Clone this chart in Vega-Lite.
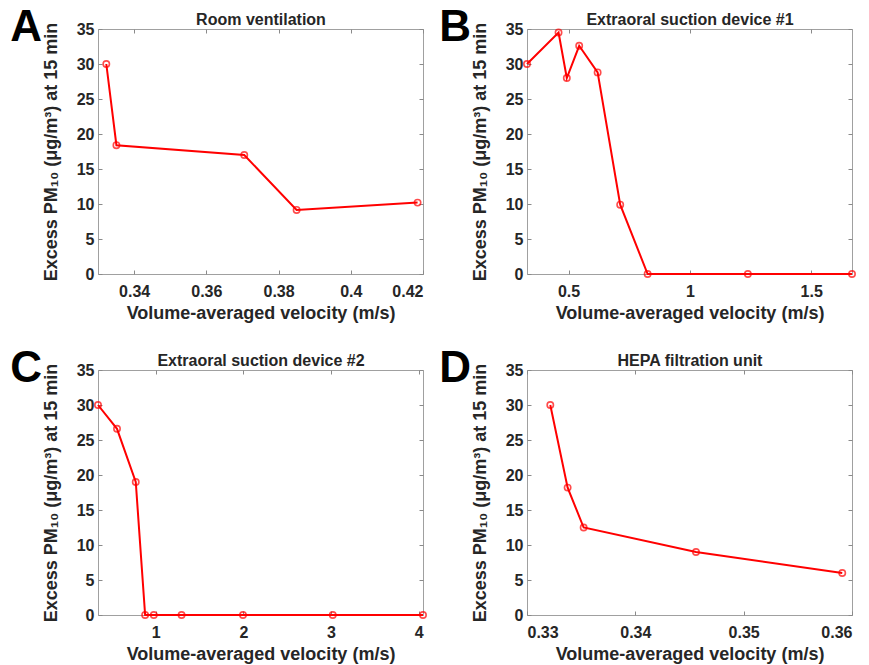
{
  "$schema": "https://vega.github.io/schema/vega-lite/v6.json",
  "background": "white",
  "padding": {"left": 9, "top": 5, "right": 0, "bottom": 0},
  "columns": 2,
  "spacing": {"column": 8, "row": 23},
  "config": {
    "view": {"stroke": "#a0a0a0", "strokeWidth": 1},
    "axis": {
      "domain": false, "grid": false,
      "tickColor": "#8a8a8a", "tickSize": -4, "tickWidth": 1,
      "labelFont": "Liberation Sans", "labelFontWeight": "bold", "labelFontSize": 16, "labelColor": "#262626",
      "titleFont": "Liberation Sans", "titleFontWeight": "bold", "titleFontSize": 18, "titleColor": "#262626"
    },
    "axisX": {"labelPadding": 13, "titlePadding": 5},
    "axisY": {"labelPadding": 8, "titlePadding": 16},
    "title": {"font": "Liberation Sans", "fontWeight": "bold", "fontSize": 44, "color": "#000000", "anchor": "start", "frame": "bounds", "dx": -32, "offset": -38, "baseline": "alphabetic"}
  },
  "concat": [
    {
      "title": "A",
      "width": 325, "height": 245,
      "data": {"values": [
        {"v": 0.3323, "pm": 30.0},
        {"v": 0.3351, "pm": 18.4},
        {"v": 0.3705, "pm": 17.0},
        {"v": 0.3850, "pm": 9.15},
        {"v": 0.4185, "pm": 10.2}
      ]},
      "layer": [
        {
          "mark": {"type": "line", "color": "#ff0000", "strokeWidth": 2},
          "encoding": {
            "x": {"field": "v", "type": "quantitative", "scale": {"domain": [0.33, 0.42], "nice": false, "zero": false},
                  "axis": {"orient": "bottom", "values": [0.34, 0.36, 0.38, 0.40, 0.42], "format": "~g", "title": "Volume-averaged velocity (m/s)"}},
            "y": {"field": "pm", "type": "quantitative", "scale": {"domain": [0, 35], "nice": false},
                  "axis": {"orient": "left", "values": [0, 5, 10, 15, 20, 25, 30, 35], "title": "Excess PM₁₀ (μg/m³) at 15 min"}}
          }
        },
        {
          "mark": {"type": "point", "shape": "circle", "filled": false, "color": "#ff0000", "size": 40, "strokeWidth": 1.6},
          "encoding": {
            "x": {"field": "v", "type": "quantitative",
                  "axis": {"orient": "top", "values": [0.34, 0.36, 0.38, 0.40, 0.42], "labels": false, "title": "Room ventilation", "titleFontSize": 16, "titlePadding": 1}},
            "y": {"field": "pm", "type": "quantitative",
                  "axis": {"orient": "right", "values": [0, 5, 10, 15, 20, 25, 30, 35], "labels": false, "title": null}}
          }
        }
      ]
    },
    {
      "title": "B",
      "width": 325, "height": 245,
      "data": {"values": [
        {"v": 0.329, "pm": 30.0},
        {"v": 0.459, "pm": 34.5},
        {"v": 0.493, "pm": 28.0},
        {"v": 0.544, "pm": 32.6},
        {"v": 0.620, "pm": 28.8},
        {"v": 0.713, "pm": 9.9},
        {"v": 0.826, "pm": 0},
        {"v": 1.239, "pm": 0},
        {"v": 1.668, "pm": 0}
      ]},
      "layer": [
        {
          "mark": {"type": "line", "color": "#ff0000", "strokeWidth": 2},
          "encoding": {
            "x": {"field": "v", "type": "quantitative", "scale": {"domain": [0.329, 1.668], "nice": false, "zero": false},
                  "axis": {"orient": "bottom", "values": [0.5, 1, 1.5], "format": "~g", "title": "Volume-averaged velocity (m/s)"}},
            "y": {"field": "pm", "type": "quantitative", "scale": {"domain": [0, 35], "nice": false},
                  "axis": {"orient": "left", "values": [0, 5, 10, 15, 20, 25, 30, 35], "title": "Excess PM₁₀ (μg/m³) at 15 min"}}
          }
        },
        {
          "mark": {"type": "point", "shape": "circle", "filled": false, "color": "#ff0000", "size": 40, "strokeWidth": 1.6},
          "encoding": {
            "x": {"field": "v", "type": "quantitative",
                  "axis": {"orient": "top", "values": [0.5, 1, 1.5], "labels": false, "title": "Extraoral suction device #1", "titleFontSize": 16, "titlePadding": 1}},
            "y": {"field": "pm", "type": "quantitative",
                  "axis": {"orient": "right", "values": [0, 5, 10, 15, 20, 25, 30, 35], "labels": false, "title": null}}
          }
        }
      ]
    },
    {
      "title": "C",
      "width": 325, "height": 245,
      "data": {"values": [
        {"v": 0.34, "pm": 30.0},
        {"v": 0.557, "pm": 26.6},
        {"v": 0.771, "pm": 19.0},
        {"v": 0.878, "pm": 0},
        {"v": 0.977, "pm": 0},
        {"v": 1.294, "pm": 0},
        {"v": 1.995, "pm": 0},
        {"v": 3.02, "pm": 0},
        {"v": 4.05, "pm": 0}
      ]},
      "layer": [
        {
          "mark": {"type": "line", "color": "#ff0000", "strokeWidth": 2},
          "encoding": {
            "x": {"field": "v", "type": "quantitative", "scale": {"domain": [0.34, 4.05], "nice": false, "zero": false},
                  "axis": {"orient": "bottom", "values": [1, 2, 3, 4], "format": "~g", "title": "Volume-averaged velocity (m/s)"}},
            "y": {"field": "pm", "type": "quantitative", "scale": {"domain": [0, 35], "nice": false},
                  "axis": {"orient": "left", "values": [0, 5, 10, 15, 20, 25, 30, 35], "title": "Excess PM₁₀ (μg/m³) at 15 min"}}
          }
        },
        {
          "mark": {"type": "point", "shape": "circle", "filled": false, "color": "#ff0000", "size": 40, "strokeWidth": 1.6},
          "encoding": {
            "x": {"field": "v", "type": "quantitative",
                  "axis": {"orient": "top", "values": [1, 2, 3, 4], "labels": false, "title": "Extraoral suction device #2", "titleFontSize": 16, "titlePadding": 1}},
            "y": {"field": "pm", "type": "quantitative",
                  "axis": {"orient": "right", "values": [0, 5, 10, 15, 20, 25, 30, 35], "labels": false, "title": null}}
          }
        }
      ]
    },
    {
      "title": "D",
      "width": 325, "height": 245,
      "data": {"values": [
        {"v": 0.33215, "pm": 30.0},
        {"v": 0.33375, "pm": 18.2},
        {"v": 0.33523, "pm": 12.5},
        {"v": 0.3456, "pm": 9.0},
        {"v": 0.3591, "pm": 6.0}
      ]},
      "layer": [
        {
          "mark": {"type": "line", "color": "#ff0000", "strokeWidth": 2},
          "encoding": {
            "x": {"field": "v", "type": "quantitative", "scale": {"domain": [0.33, 0.36], "nice": false, "zero": false},
                  "axis": {"orient": "bottom", "values": [0.33, 0.34, 0.35, 0.36], "format": "~g", "title": "Volume-averaged velocity (m/s)"}},
            "y": {"field": "pm", "type": "quantitative", "scale": {"domain": [0, 35], "nice": false},
                  "axis": {"orient": "left", "values": [0, 5, 10, 15, 20, 25, 30, 35], "title": "Excess PM₁₀ (μg/m³) at 15 min"}}
          }
        },
        {
          "mark": {"type": "point", "shape": "circle", "filled": false, "color": "#ff0000", "size": 40, "strokeWidth": 1.6},
          "encoding": {
            "x": {"field": "v", "type": "quantitative",
                  "axis": {"orient": "top", "values": [0.33, 0.34, 0.35, 0.36], "labels": false, "title": "HEPA filtration unit", "titleFontSize": 16, "titlePadding": 1}},
            "y": {"field": "pm", "type": "quantitative",
                  "axis": {"orient": "right", "values": [0, 5, 10, 15, 20, 25, 30, 35], "labels": false, "title": null}}
          }
        }
      ]
    }
  ]
}
